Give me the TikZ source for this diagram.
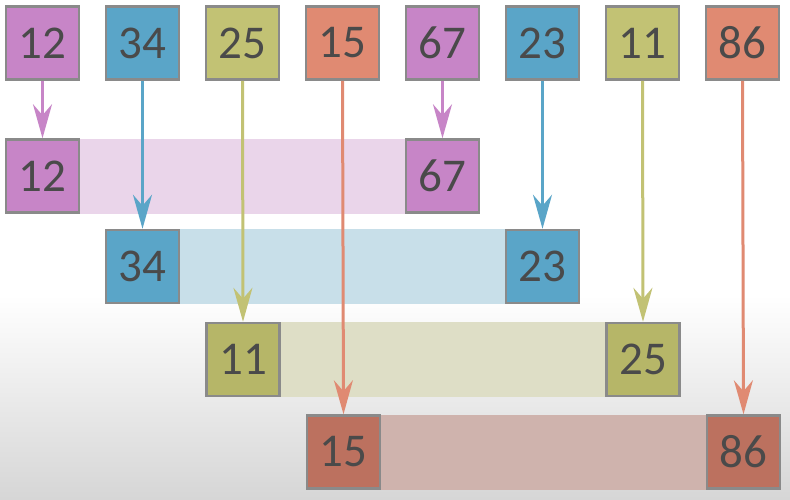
\documentclass[tikz,border=0pt]{standalone}
\usepackage{fontspec}
\setmainfont{Carlito}
\usetikzlibrary{arrows.meta}
\definecolor{pinkc}{HTML}{C785C7}
\definecolor{bluec}{HTML}{5AA5C8}
\definecolor{olivec}{HTML}{C2C274}
\definecolor{olived}{HTML}{B6B668}
\definecolor{salmonc}{HTML}{E08A72}
\definecolor{salmond}{HTML}{BC715F}
\definecolor{pinkband}{HTML}{EAD5EA}
\definecolor{blueband}{HTML}{C8DFE9}
\definecolor{oliveband}{HTML}{DEDEC6}
\definecolor{salmonband}{HTML}{CFB3AD}
\definecolor{bordc}{HTML}{8A8A8A}
\definecolor{txtc}{HTML}{4A4A4A}
\definecolor{bgbot}{HTML}{D6D6D6}
\tikzset{
  box/.style={draw=bordc, line width=2.5pt, minimum size=73pt, inner sep=0pt,
    text=txtc, font=\fontsize{47}{47}\selectfont},
  arr/.style={line width=3pt, -{Stealth[length=34pt,width=19pt,inset=11pt]}}
}
\begin{document}
\begin{tikzpicture}[x=1pt,y=-1pt]
\useasboundingbox (0,0) rectangle (790,499);
\fill[white] (0,0) rectangle (790,295);
\shade[top color=white, bottom color=bgbot] (0,295) rectangle (790,499);
% top row
\node[box, fill=pinkc]   (t1) at (42.5,43) {12};
\node[box, fill=bluec]   (t2) at (142.5,43) {34};
\node[box, fill=olivec]  (t3) at (242.5,43) {25};
\node[box, fill=salmonc] (t4) at (342.5,43) {15};
\node[box, fill=pinkc]   (t5) at (442.5,43) {67};
\node[box, fill=bluec]   (t6) at (542.5,43) {23};
\node[box, fill=olivec]  (t7) at (642.5,43) {11};
\node[box, fill=salmonc] (t8) at (742.5,43) {86};
% lower rows (positions)
\coordinate (a1) at (42.5,176);
\coordinate (a2) at (442.5,176);
\coordinate (b1) at (142.5,266.5);
\coordinate (b2) at (542.5,266.5);
\coordinate (c1) at (243,359.5);
\coordinate (c2) at (643,359.5);
\coordinate (d1) at (343.5,452);
\coordinate (d2) at (743.5,452);
% bands
\fill[pinkband]   ([yshift=-37.5pt]a1) rectangle ([yshift=37.5pt]a2);
\fill[blueband]   ([yshift=-37.5pt]b1) rectangle ([yshift=37.5pt]b2);
\fill[oliveband]  ([yshift=-37.5pt]c1) rectangle ([yshift=37.5pt]c2);
\fill[salmonband] ([yshift=-37.5pt]d1) rectangle ([yshift=37.5pt]d2);
% target boxes
\node[box, fill=pinkc]   (A1) at (a1) {12};
\node[box, fill=pinkc]   (A2) at (a2) {67};
\node[box, fill=bluec]   (B1) at (b1) {34};
\node[box, fill=bluec]   (B2) at (b2) {23};
\node[box, fill=olived]  (C1) at (c1) {11};
\node[box, fill=olived]  (C2) at (c2) {25};
\node[box, fill=salmond] (D1) at (d1) {15};
\node[box, fill=salmond] (D2) at (d2) {86};
% arrows
\draw[arr, pinkc]   (t1.south) -- (A1.north);
\draw[arr, bluec]   (t2.south) -- (B1.north);
\draw[arr, olivec]  (t3.south) -- (C1.north);
\draw[arr, salmonc] (t4.south) -- (D1.north);
\draw[arr, pinkc]   (t5.south) -- (A2.north);
\draw[arr, bluec]   (t6.south) -- (B2.north);
\draw[arr, olivec]  (t7.south) -- (C2.north);
\draw[arr, salmonc] (t8.south) -- (D2.north);
\end{tikzpicture}
\end{document}
